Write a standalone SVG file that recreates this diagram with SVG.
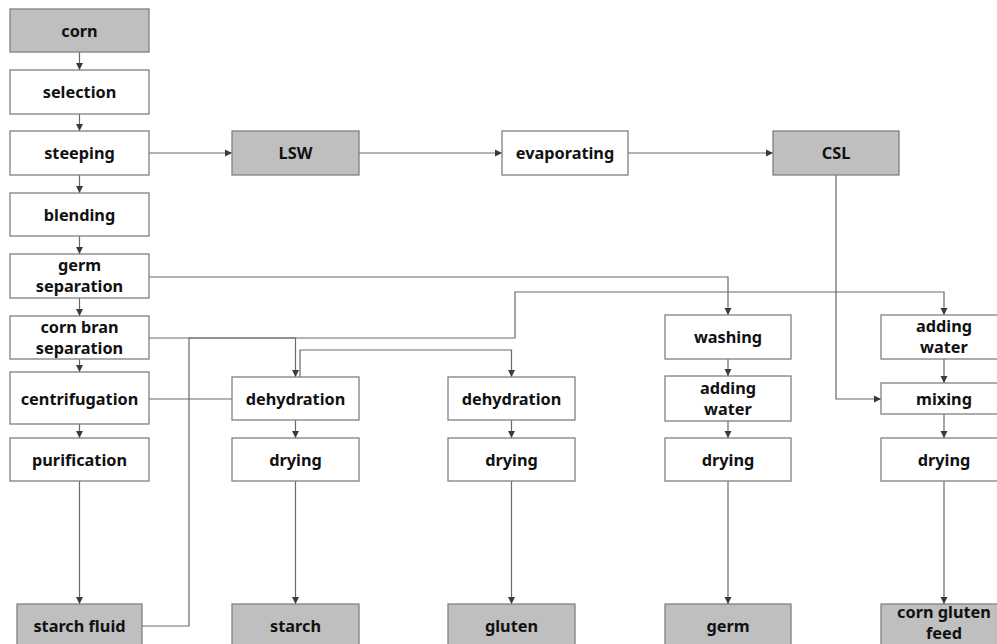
<svg xmlns="http://www.w3.org/2000/svg" width="997" height="644" viewBox="0 0 997 644">
<defs>
<marker id="ah" markerWidth="8" markerHeight="8" refX="7" refY="4" orient="auto" markerUnits="userSpaceOnUse">
<path d="M0,0.5 L7,4 L0,7.5 Z" fill="#3a3a3a"/>
</marker>
<style>
.b{fill:#ffffff;stroke:#808080;stroke-width:1.3}
.g{fill:#bfbfbf;stroke:#808080;stroke-width:1.3}
text{font-family:"Noto Sans","Open Sans","Liberation Sans",sans-serif;font-weight:bold;font-size:16.3px;fill:#111;text-anchor:middle}
.c{fill:none;stroke:#6a6a6a;stroke-width:1.2}
.a{marker-end:url(#ah)}
</style>
</defs>
<rect width="997" height="644" fill="#ffffff"/>
<g id="connectors">
<path class="c a" d="M79.5,52 V70"/>
<path class="c a" d="M79.5,114 V131"/>
<path class="c a" d="M79.5,175 V193"/>
<path class="c a" d="M79.5,236 V254"/>
<path class="c a" d="M79.5,298 V316"/>
<path class="c a" d="M79.5,359 V372"/>
<path class="c a" d="M79.5,424 V438"/>
<path class="c a" d="M79.5,481 V604"/>
<path class="c a" d="M149,153 H232"/>
<path class="c a" d="M359,153 H502"/>
<path class="c a" d="M628,153 H773"/>
<path class="c a" d="M836,175 V399 H881"/>
<path class="c a" d="M149,277 H728 V315"/>
<path class="c a" d="M149,338 H515 V292 H944 V315"/>
<path class="c a" d="M142,626 H189 V338 H295.5 V377"/>
<path class="c a" d="M300,377 V350 H511.5 V377"/>
<path class="c" d="M149,399 H232"/>
<path class="c a" d="M295.5,420 V438"/>
<path class="c a" d="M295.5,481 V604"/>
<path class="c a" d="M511.5,420 V438"/>
<path class="c a" d="M511.5,481 V604"/>
<path class="c a" d="M728,359 V376"/>
<path class="c a" d="M728,421 V438"/>
<path class="c a" d="M728,481 V604"/>
<path class="c a" d="M944,359 V383"/>
<path class="c a" d="M944,414 V438"/>
<path class="c a" d="M944,481 V604"/>
</g>
<g id="corn"><rect class="g" x="10" y="9" width="139" height="43"/><text x="79.5" y="36.5">corn</text></g>
<g id="selection"><rect class="b" x="10" y="70" width="139" height="44"/><text x="79.5" y="98">selection</text></g>
<g id="steeping"><rect class="b" x="10" y="131" width="139" height="44"/><text x="79.5" y="159">steeping</text></g>
<g id="blending"><rect class="b" x="10" y="193" width="139" height="43"/><text x="79.5" y="220.5">blending</text></g>
<g id="germ-separation"><rect class="b" x="10" y="254" width="139" height="44"/><text x="79.5" y="271">germ</text><text x="79.5" y="292">separation</text></g>
<g id="corn-bran-separation"><rect class="b" x="10" y="316" width="139" height="43"/><text x="79.5" y="332.5">corn bran</text><text x="79.5" y="353.5">separation</text></g>
<g id="centrifugation"><rect class="b" x="10" y="372" width="139" height="52"/><text x="79.5" y="404.5">centrifugation</text></g>
<g id="purification"><rect class="b" x="10" y="438" width="139" height="43"/><text x="79.5" y="465.5">purification</text></g>
<g id="starch-fluid"><rect class="g" x="17" y="604" width="125" height="46"/><text x="79.5" y="632">starch fluid</text></g>
<g id="LSW"><rect class="g" x="232" y="131" width="127" height="44"/><text x="295.5" y="159">LSW</text></g>
<g id="evaporating"><rect class="b" x="502" y="131" width="126" height="44"/><text x="565" y="159">evaporating</text></g>
<g id="CSL"><rect class="g" x="773" y="131" width="126" height="44"/><text x="836" y="159">CSL</text></g>
<g id="dehydration-1"><rect class="b" x="232" y="377" width="127" height="43"/><text x="295.5" y="404.5">dehydration</text></g>
<g id="drying-1"><rect class="b" x="232" y="438" width="127" height="43"/><text x="295.5" y="465.5">drying</text></g>
<g id="starch"><rect class="g" x="232" y="604" width="127" height="46"/><text x="295.5" y="632">starch</text></g>
<g id="dehydration-2"><rect class="b" x="448" y="377" width="127" height="43"/><text x="511.5" y="404.5">dehydration</text></g>
<g id="drying-2"><rect class="b" x="448" y="438" width="127" height="43"/><text x="511.5" y="465.5">drying</text></g>
<g id="gluten"><rect class="g" x="448" y="604" width="127" height="46"/><text x="511.5" y="632">gluten</text></g>
<g id="washing"><rect class="b" x="665" y="315" width="126" height="44"/><text x="728" y="343">washing</text></g>
<g id="adding-water-1"><rect class="b" x="665" y="376" width="126" height="45"/><text x="728" y="393.5">adding</text><text x="728" y="414.5">water</text></g>
<g id="drying-3"><rect class="b" x="665" y="438" width="126" height="43"/><text x="728" y="465.5">drying</text></g>
<g id="germ"><rect class="g" x="665" y="604" width="126" height="46"/><text x="728" y="632">germ</text></g>
<g id="adding-water-2"><rect class="b" x="881" y="315" width="126" height="44"/><text x="944" y="332">adding</text><text x="944" y="353">water</text></g>
<g id="mixing"><rect class="b" x="881" y="383" width="126" height="31"/><text x="944" y="404.5">mixing</text></g>
<g id="drying-4"><rect class="b" x="881" y="438" width="126" height="43"/><text x="944" y="465.5">drying</text></g>
<g id="corn-gluten-feed"><rect class="g" x="881" y="604" width="126" height="46"/><text x="944" y="618">corn gluten</text><text x="944" y="639">feed</text></g>
</svg>
